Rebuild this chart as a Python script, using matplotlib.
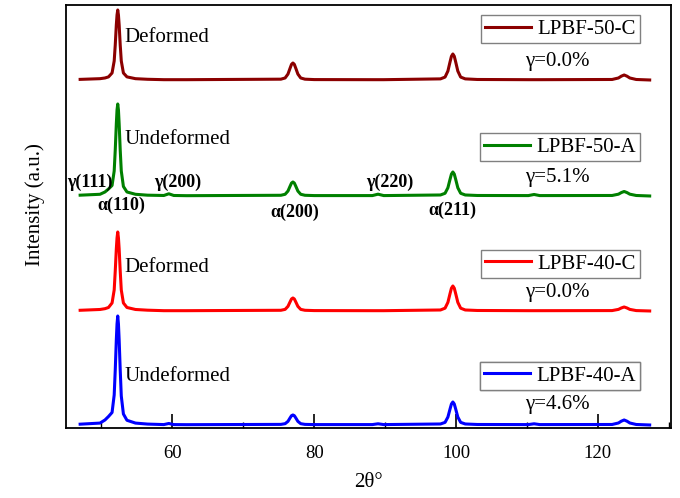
import numpy as np
import matplotlib.pyplot as plt
from matplotlib.ticker import MultipleLocator

plt.rcParams['font.family'] = ['Liberation Serif', 'DejaVu Serif']

# 2theta sample points (deg)
two_theta = [47.0, 49.8, 50.5, 51.0, 51.5, 51.8, 51.95, 52.1, 52.2, 52.3, 52.4, 52.5,
             52.65, 52.8, 53.1, 53.6, 54.8, 56.5,
             58.8, 59.5, 60.2, 62.0,
             75.3, 75.9, 76.3, 76.6, 76.8, 77.0, 77.2, 77.4, 77.7, 78.1, 78.7, 80.0,
             88.2, 89.0, 89.8,
             97.8, 98.45, 98.85, 99.15, 99.35, 99.55, 99.75, 99.95, 100.25, 100.65, 101.3, 103.0,
             110.2, 111.0, 111.8,
             122.0, 122.9, 123.3, 123.7, 124.1, 124.5, 125.4, 127.3]

# intensities above each pattern's baseline (a.u.)
i_50c = [0.6, 1.3, 2.0, 3.1, 7, 19, 35, 55, 65, 70, 65, 55, 35, 19, 7, 3.1, 1.3, 0.7,
         0.3, 0.3, 0.3, 0.3,
         0.8, 2, 5.9, 11.8, 15.6, 17, 15.6, 11.8, 5.9, 2, 0.8, 0.4,
         0.3, 0.3, 0.3,
         1.1, 2.9, 8.9, 18, 23.7, 26, 23.7, 18, 8.9, 2.9, 1.1, 0.5,
         0.3, 0.3, 0.3,
         0.5, 2, 3.8, 5, 3.8, 2, 0.5, 0]
i_50a = [0.8, 1.7, 4.0, 7.0, 10.5, 25, 46, 72, 86, 92, 86, 72, 46, 25, 9.5, 4.0, 1.7, 0.8,
         0.5, 2.2, 0.5, 0.3,
         0.7, 1.7, 4.9, 9.8, 12.9, 14, 12.9, 9.8, 4.9, 1.7, 0.7, 0.4,
         0.4, 1.8, 0.4,
         1, 2.7, 8.2, 16.6, 21.9, 24, 21.9, 16.6, 8.2, 2.7, 1, 0.5,
         0.4, 1.5, 0.4,
         0.5, 1.8, 3.4, 4.5, 3.4, 1.8, 0.5, 0]
i_40c = [0.7, 1.5, 2.3, 3.5, 8, 21, 40, 62, 73, 79, 73, 62, 40, 21, 8, 3.5, 1.5, 0.8,
         0.3, 0.3, 0.3, 0.3,
         0.7, 1.6, 4.6, 9.1, 12, 13, 12, 9.1, 4.6, 1.6, 0.7, 0.4,
         0.3, 0.3, 0.3,
         1, 2.8, 8.6, 17.3, 22.8, 25, 22.8, 17.3, 8.6, 2.8, 1, 0.5,
         0.3, 0.3, 0.3,
         0.4, 1.6, 3, 4, 3, 1.6, 0.4, 0]
i_40a = [0.8, 1.9, 5, 8.5, 12.5, 30, 55, 85, 101, 109, 101, 85, 55, 29, 11, 4.7, 1.9, 0.9,
         0.4, 1.5, 0.4, 0.3,
         0.6, 1.3, 3.6, 7.1, 9.3, 10, 9.3, 7.1, 3.6, 1.3, 0.6, 0.4,
         0.4, 1.2, 0.4,
         1, 2.6, 7.9, 15.9, 21, 23, 21, 15.9, 7.9, 2.6, 1, 0.5,
         0.4, 1.2, 0.4,
         0.5, 2, 3.8, 5, 3.8, 2, 0.5, 0]

labels = ['LPBF-50-C', 'LPBF-50-A', 'LPBF-40-C', 'LPBF-40-A']
offsets = [348, 232, 117, 3]
colors = ['#8b0000', '#008000', '#ff0000', '#0000ff']
states = ['Deformed', 'Undeformed', 'Deformed', 'Undeformed']
gamma_frac = ['γ=0.0%', 'γ=5.1%', 'γ=0.0%', 'γ=4.6%']

# peak labels (text, 2theta, height)
peak_names = ['γ(111)', 'α(110)', 'γ(200)', 'α(200)', 'γ(220)', 'α(211)']
peak_x = [48.3, 52.8, 60.7, 77.2, 90.6, 99.5]
peak_y = [246, 223, 246, 216, 246, 218]

fig = plt.figure(figsize=(6.8, 4.98), dpi=100)
ax = fig.add_axes([0.097, 0.1406, 0.8897, 0.8494])

series = [i_50c, i_50a, i_40c, i_40a]
legend_y = [0.943, 0.664, 0.388, 0.123]
state_y = [390, 288, 160, 51]
gamma_y = [366, 250, 135, 23]

for k in range(4):
    y = np.array(series[k]) + offsets[k]
    line, = ax.plot(two_theta, y, color=colors[k], lw=2.2)
    leg = ax.legend(handles=[line], labels=[labels[k]], loc='center',
                    bbox_to_anchor=(0.817, legend_y[k]), fontsize=15,
                    fancybox=False, edgecolor='#808080', framealpha=1,
                    handlelength=2.2, handletextpad=0.3, borderpad=0.2,
                    borderaxespad=0)
    leg.get_frame().set_linewidth(1.0)
    ax.add_artist(leg)
    ax.text(53.2, state_y[k], states[k], fontsize=15, va='center', ha='left')
    ax.text(114.3, gamma_y[k], gamma_frac[k], fontsize=15, va='center', ha='center')

for name, px, py in zip(peak_names, peak_x, peak_y):
    ax.text(px, py, name, fontsize=13, fontweight='bold', ha='center', va='center')

ax.set_xlim(45, 130.3)
ax.set_ylim(0, 423)
ax.set_yticks([])
ax.xaxis.set_major_locator(MultipleLocator(20))
ax.xaxis.set_minor_locator(MultipleLocator(10))
ax.tick_params(axis='x', which='major', direction='in', length=10, width=1.2,
               labelsize=13.5, pad=12)
ax.tick_params(axis='x', which='minor', direction='in', length=4.5, width=1.0)
for s in ax.spines.values():
    s.set_linewidth(1.3)
ax.set_xlabel('2θ°', fontsize=15, labelpad=8)
ax.set_ylabel('Intensity (a.u.)', fontsize=15)
ax.yaxis.set_label_coords(-0.035, 0.527)

plt.savefig('out.png', dpi=100)
